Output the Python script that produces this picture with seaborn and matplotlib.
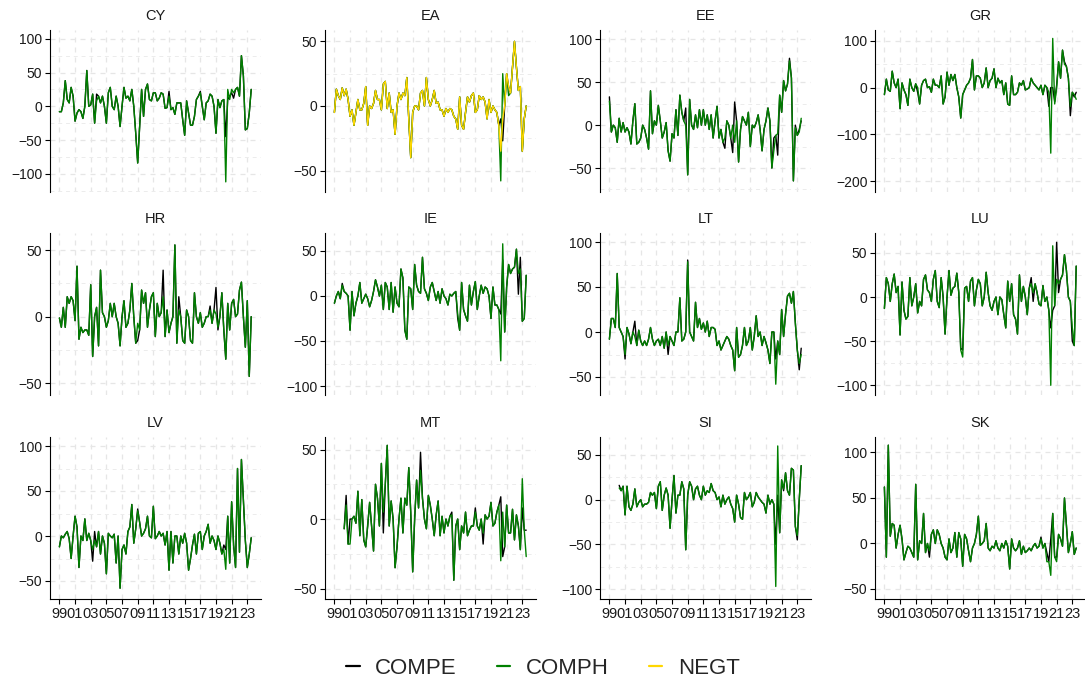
import numpy as np
import pandas as pd
import matplotlib
matplotlib.use("Agg")
import matplotlib.pyplot as plt
import seaborn as sns
from matplotlib.ticker import MultipleLocator, FixedLocator
from matplotlib.lines import Line2D

sns.set_theme(style="white")
plt.rcParams['font.family'] = ['Liberation Sans', 'DejaVu Sans']
plt.rcParams['axes.unicode_minus'] = True

# ---------------- data ----------------
COUNTRIES = ["CY", "EA", "EE", "GR", "HR", "IE", "LT", "LU", "LV", "MT", "SI", "SK"]
SERIES = ["COMPE", "COMPH", "NEGT"]
COLORS = {"COMPE": "#000000", "COMPH": "#008000", "NEGT": "#FFD700"}
FIRST_QUARTER = {"CY": "1999Q1", "EA": "1999Q1", "EE": "1999Q1", "GR": "1999Q1",
                 "HR": "1999Q1", "IE": "1999Q1", "LT": "1999Q1", "LU": "1999Q1",
                 "LV": "1999Q1", "MT": "2000Q2", "SI": "2000Q2", "SK": "1999Q1"}
Y_STEP = {"CY": 50, "EA": 50, "EE": 50, "GR": 100, "HR": 50, "IE": 50,
          "LT": 50, "LU": 50, "LV": 50, "MT": 50, "SI": 50, "SK": 50}
Y_LIMITS = {"CY": (-127, 113), "EA": (-66.6, 58.8), "EE": (-78, 111), "GR": (-223, 123),
            "HR": (-59, 63), "IE": (-110, 70), "LT": (-70, 110), "LU": (-111, 72.5),
            "LV": (-70, 110), "MT": (-57.5, 59), "SI": (-111, 70), "SK": (-61, 117)}
X_TICK_YEARS = [1999, 2001, 2003, 2005, 2007, 2009, 2011, 2013, 2015, 2017, 2019, 2021, 2023]
X_TICK_LABELS = ["99", "01", "03", "05", "07", "09", "11", "13", "15", "17", "19", "21", "23"]

CY_COMPH = [-8, -8, 5, 38, 10, 5, 28, 15, -22, -10,
            -5, -8, -18, 0, 53, 0, 2, 18, -25, 8,
            15, 5, 15, 0, -25, 20, 28, 0, -5, 15,
            0, -30, 0, 28, 12, 15, 8, 25, 0, -40,
            -84, -30, 25, -15, 25, 33, 10, 8, 20, 20,
            8, 12, 20, 18, -3, -2, 15, -5, -2, -12,
            5, 5, 5, -20, -43, 8, -10, -28, -28, -15,
            10, 15, 20, 0, -20, 5, 8, 18, 15, 0,
            -40, 10, -2, 8, 10, -112, 25, 10, 25, 20,
            25, 28, 15, 75, 45, -35, -33, -10, 25]
CY_COMPE = [-8, -8, 5, 38, 10, 5, 28, 15, -22, -10,
            -5, -8, -18, 0, 53, 0, 2, 18, -25, 18,
            15, 5, 15, 0, -25, 20, 28, 0, -5, 15,
            0, -30, 0, 28, 12, 15, 8, 25, 0, -40,
            -84, -30, 25, -15, 25, 33, 10, 8, 20, 20,
            8, 12, 20, 18, -3, -2, 22, -5, -2, -12,
            5, 5, 5, -20, -43, 8, -10, -28, -28, -15,
            10, 15, 22, 0, -20, 5, 8, 18, 15, 0,
            -40, 10, -2, 8, 10, -45, 10, 15, 20, 12,
            25, 28, 15, 75, 45, -35, -33, -10, 25]

EA_NEGT = [-5, 13, 8, 5, 14, 8, 13, 5, -8, -3,
           -15, -5, 5, -3, -3, 2, 15, -15, 0, -2,
           2, 12, 5, 5, -3, 17, 19, -2, 10, -5,
           -3, -22, 0, 10, 5, 10, 8, 22, -10, -40,
           -5, 0, 0, -3, 10, 12, 0, 22, 5, 0,
           5, 12, 2, 3, -3, -3, -8, -2, -5, -2,
           -3, -8, -10, -18, 7, -15, -18, -5, 7, 3,
           8, 10, -5, -3, 8, 5, 7, 3, -10, 5,
           -5, 0, -3, -5, -15, -35, -10, 0, 25, 15,
           10, 30, 50, 30, 12, 15, -35, -10, 0]
EA_COMPH = [-5, 13, 8, 5, 14, 8, 13, 5, -8, -3,
            -15, -5, 5, -3, -3, 2, 15, -15, 0, -2,
            2, 12, 5, 5, -3, 17, 19, -2, 10, -5,
            -3, -22, 0, 10, 5, 10, 8, 22, -10, -40,
            -5, 0, 0, -3, 10, 12, 0, 22, 5, 0,
            5, 12, 2, 3, -3, -3, -8, -2, -5, -2,
            -3, -8, -10, -18, 7, -15, -18, -5, 7, 3,
            8, 10, -5, -3, 8, 5, 7, 3, -10, 5,
            -5, 0, -3, -5, -15, -58, 25, 0, 25, 8,
            10, 30, 50, 30, 12, 15, -35, -10, 0]
EA_COMPE = [-5, 13, 8, 5, 14, 8, 13, 5, -8, -3,
            -15, -5, 5, -3, -3, 2, 15, -15, 0, -2,
            2, 12, 5, 5, -3, 17, 19, -2, 10, -5,
            -3, -22, 0, 10, 5, 10, 8, 22, -10, -40,
            -5, 0, 0, -3, 10, 12, 0, 22, 5, 0,
            5, 12, 2, 3, -3, -3, -8, -2, -5, -2,
            -3, -8, -10, -18, 7, -15, -18, -5, 7, 3,
            8, 10, -5, -3, 8, 5, 7, 3, -10, 5,
            -5, 0, -3, -5, -15, -10, -27, 0, 25, 15,
            10, 30, 50, 30, 12, 15, -35, -10, 0]

EE_COMPH = [28, -8, 0, -3, -20, 8, -8, 3, -8, -3,
            -8, -22, 5, 25, -22, -20, -15, 0, -5, -15,
            -28, 40, -10, 5, 0, 23, 5, -15, -8, 3,
            -30, -42, -10, -15, 18, -12, 35, 15, 5, 0,
            -58, 30, 0, -5, 12, -3, 18, 0, 18, 0,
            12, -5, 12, -15, 5, 22, -15, -5, -20, -15,
            5, 0, -15, 0, -20, 5, -43, -5, 10, 5,
            0, 15, -25, 0, -3, 3, 12, -5, -30, -5,
            5, 20, 5, -50, -30, -12, -10, 35, 15, 52,
            40, 48, 75, 55, -65, -3, -12, -8, 8]
EE_COMPE = [33, -8, 0, -3, -20, 8, -8, 3, -8, -3,
            -8, -22, 5, 25, -22, -20, -15, 0, -5, -15,
            -28, 40, -10, 5, 0, 23, 5, -15, -8, 3,
            -30, -42, -10, -15, 18, -12, 35, 15, 5, 20,
            -58, 30, 0, -5, 12, -3, 18, 0, 18, 0,
            12, -5, 12, -15, 5, 22, -15, -5, -20, -27,
            5, 0, -15, -32, 27, 5, -43, -5, 10, 5,
            0, 15, -25, 0, -3, 3, 12, -5, -30, -5,
            5, 20, 5, -50, -15, -12, -35, 35, 15, 52,
            40, 48, 78, 55, -65, 0, -12, -5, 5]

GR_COMPH = [-15, 18, -5, -8, 35, 10, 0, 18, -45, 10,
            -5, -15, -38, 18, 0, -8, 8, 0, -35, 5,
            15, 18, 0, 2, -10, 18, 5, 5, 0, 25,
            -35, -20, 33, 5, 28, 15, 28, 0, -20, -65,
            -15, -5, 5, 10, 20, 60, -5, 25, 25, 20,
            0, 10, 42, 0, 15, 20, 40, 0, 20, 10,
            15, -15, 10, -35, -38, 25, -15, -15, -10, 10,
            5, 15, -5, -3, 0, 20, 10, 5, 0, -5,
            5, -15, 5, 0, -10, -140, 105, -35, 0, 55,
            20, 80, 50, 45, 20, -40, -10, -15, -25]
GR_COMPE = [-15, 18, -5, -8, 35, 10, 0, 18, -45, 10,
            -5, -15, -38, 18, 0, -8, 8, -10, -35, 5,
            15, 18, 0, 2, -10, 18, 5, 5, 0, 25,
            -35, -20, 33, 5, 28, 15, 28, 0, -20, -65,
            -15, -5, 5, 10, 20, 60, -5, 25, 25, 20,
            0, 10, 42, 0, 15, 20, 40, 0, 20, 10,
            15, -15, 10, -35, -38, 25, -15, -15, -10, 10,
            5, 15, -5, -3, 0, 20, 10, 5, 0, -5,
            5, -15, 5, 0, -40, 0, 0, -30, 5, 55,
            20, 80, 55, 45, 20, -60, -10, -20, -10]

HR_COMPH = [-1, -8, 7, -8, 15, 10, 15, 12, -3, 38,
            -17, -8, -12, -10, -10, -14, 24, -30, 0, 7,
            -22, 35, 3, 0, -8, -3, 10, 0, 10, 0,
            -5, -22, 0, 12, -8, -5, 5, 25, 0, -20,
            -5, -10, 20, 10, 18, -8, 5, 15, 18, -15,
            10, 0, 3, 15, -15, 5, -12, -5, 0, 54,
            -20, 5, 0, -18, -20, 5, 0, -18, -20, 18,
            0, -5, 3, -8, -5, 0, 0, 5, -5, 5,
            2, -8, 0, 18, -10, -32, 10, -10, 10, 13,
            0, 2, 20, 26, 0, -23, 12, -45, 0]
HR_COMPE = [-1, -8, 7, -8, 15, 10, 15, 12, -3, 38,
            -17, -8, -12, -10, -10, -14, 24, -30, 0, 7,
            -22, 35, 3, 0, -8, -3, 10, 0, 10, 0,
            -5, -22, 0, 12, -8, -5, 5, 25, 0, -20,
            -18, -10, 20, 10, 18, -8, 5, 15, 18, -15,
            10, 0, 3, 35, -15, 5, -12, -5, 0, 54,
            -20, 15, 0, -18, -20, 5, 0, -18, -20, 18,
            0, -5, 3, -8, -5, 0, 0, 8, -5, 5,
            22, -10, 0, 18, -10, -32, 10, -10, 10, 13,
            0, 2, 20, 26, 0, -23, 12, -45, 0]

IE_COMPH = [-8, 0, 5, -3, 12, 5, 3, 0, -38, 5,
            -22, -8, 0, 15, -8, -3, 2, -3, -12, -5,
            5, 18, 10, 0, 12, -15, 15, 10, -15, 15,
            -18, 10, -8, -12, 30, 20, -38, -48, 10, 8,
            -15, 35, 12, 5, 3, 43, 8, 3, -5, 10,
            15, 5, -5, 5, -8, 8, 0, -3, -10, 2,
            0, 3, 5, -20, -38, 15, -15, -22, -28, 12,
            -10, 5, 16, -15, 0, 12, 3, 10, 8, 0,
            -25, 10, -10, -10, -15, -72, 58, -40, 10, 35,
            25, 30, 32, 52, 25, 30, -28, -25, 23]
IE_COMPE = [-8, 0, 5, -3, 14, 5, 3, 0, -38, 5,
            -22, -8, 0, 15, -8, -3, 2, -3, -12, -5,
            5, 18, 10, 0, 12, -15, 15, 10, -15, 15,
            -18, 10, -8, -12, 30, 20, -38, -48, 10, 8,
            -15, 35, 12, 5, 3, 43, 8, 3, -5, 10,
            15, 5, -5, 5, -8, 8, 0, -3, -10, 2,
            0, 3, 5, -25, -38, 15, -15, -22, -28, 12,
            -10, 5, 16, -15, 0, 12, 3, 10, 8, 0,
            -25, 10, -10, -10, -15, -20, 40, -40, 10, 35,
            25, 30, 32, 52, 2, 43, -28, -25, 23]

LT_COMPH = [-8, 15, 15, 5, 65, 5, 0, -5, -25, 5,
            -2, -13, 0, -5, -15, 2, -10, -15, -10, -15,
            -8, 5, -8, -15, -10, -8, -15, -5, -18, 0,
            -15, -5, -10, -15, 0, 0, 38, -10, -8, 0,
            78, 0, -5, -10, 33, 5, 15, 3, 10, 0,
            12, -5, 5, 5, 3, -15, -10, -20, -15, -10,
            -5, -8, -15, -20, -43, 5, -28, -25, -15, 5,
            -15, -10, 5, -20, -5, 18, -5, 0, -15, -5,
            -12, -20, -35, 0, 0, -58, -10, -25, 25, -5,
            20, 40, 43, 32, 45, 10, -20, -35, -25]
LT_COMPE = [-8, 15, 15, 5, 65, 5, 0, -5, -30, 5,
            -2, -13, 0, 12, -15, 2, -10, -15, -10, -15,
            -8, 5, -8, -15, -10, -8, -15, -5, -18, 0,
            -25, -5, -10, -15, 0, 0, 38, -10, -8, 0,
            80, 0, -5, -10, 33, 5, 15, 3, 10, 0,
            12, -5, 5, 5, 3, -15, -10, -20, -15, -10,
            -5, -8, -15, -20, -43, 5, -28, -25, -15, 5,
            -15, -10, 5, -20, -5, 18, -5, 0, -15, -5,
            -12, -20, -35, 0, 0, -30, -10, -25, 25, -5,
            20, 40, 43, 32, 45, 10, -20, -42, -18]

LU_COMPH = [-13, 22, 15, -5, 15, 26, 5, 12, -43, 17,
            -15, -25, -22, 22, -10, 0, 15, -18, -5, -10,
            20, 25, 8, 5, -5, 20, 30, -5, -12, 22,
            0, -42, 0, 30, 2, 10, 12, 27, 5, -60,
            -68, 10, 12, -5, 18, 22, -10, 8, 20, 15,
            -10, 0, 28, 5, -10, -15, -5, 0, -20, 0,
            -3, -20, -35, 18, -5, 15, -20, -25, -42, 25,
            -5, 12, 0, -20, 10, 15, 5, 15, 5, -8,
            -10, 13, -5, 0, -15, -100, 58, -10, 20, 15,
            20, 25, 48, 30, 0, -5, -35, -55, 35]
LU_COMPE = [-13, 22, 15, -5, 15, 26, 5, 12, -43, 17,
            -15, -25, -22, 22, -10, 0, 15, -18, -5, -10,
            20, 25, 8, 5, -5, 20, 30, -5, -12, 22,
            0, -42, 0, 30, 2, 10, 12, 27, 5, -58,
            -60, 10, 12, -5, 18, 22, -10, 8, 20, 15,
            -10, 0, 28, 5, -10, -15, -5, 0, -20, 0,
            -3, -20, -35, 18, -5, 15, -20, -25, -42, 25,
            -5, 12, 0, -20, 10, 22, -5, 15, 5, -8,
            -10, 13, -5, 0, -15, -35, -15, -10, 62, 5,
            20, 25, 48, 30, 0, -5, -50, -55, 35]

LV_COMPH = [-12, 0, -2, 2, 5, -3, -25, 0, 22, 10,
            -35, 0, -5, 19, -5, 3, -5, -15, -5, -12,
            5, -20, 0, -8, -42, 3, 0, -2, 2, -30,
            0, -58, -15, -10, -20, 5, 10, 35, -8, 8,
            28, 15, 0, 3, 8, 22, 0, -2, 33, -3,
            0, 5, 0, 3, -10, 5, -38, 5, -30, 0,
            0, -20, 0, -8, 3, -8, -38, -25, -10, 2,
            -20, 3, 5, -15, 0, 5, 13, -8, 0, -5,
            -15, 0, -8, -20, -15, -37, 22, -30, 38, -10,
            -35, 75, -18, 85, 40, -5, -35, -20, -2]
LV_COMPE = [-12, 0, -2, 2, 5, -3, -25, 0, 22, 10,
            -35, 0, -5, 19, -5, 3, -5, -28, 5, -12,
            5, -20, 0, -8, -42, 3, 0, -2, 2, -30,
            0, -58, -15, -10, -20, 5, 10, 35, -8, 8,
            30, 15, 0, 3, 8, 22, 0, -2, 33, -3,
            0, 5, 0, 3, -10, 5, -38, 5, -30, 0,
            0, -20, 0, -8, 3, -8, -38, -25, -10, 2,
            -20, 3, 5, -15, 0, 5, 13, -8, 0, -5,
            -15, 0, -8, -20, -10, -15, 22, -30, 38, -10,
            -35, 75, -18, 85, 40, -5, -35, -20, -2]

MT_COMPH = [-7, 10, -18, -18, 0, 2, -3, 20, -12, 14,
            -15, -20, -5, 12, -5, -23, 25, 15, -5, 40,
            5, 25, 53, -5, 13, 0, -35, -20, 0, 15,
            -10, 15, 10, 37, 5, -38, 0, 28, 8, 35,
            15, 0, -7, 17, 10, 0, -12, 3, 13, -12,
            2, -10, 0, -5, 2, 3, -44, -5, 0, -22,
            -5, -10, 5, -12, -8, -5, -5, 5, -5, -8,
            0, -10, 3, 0, 2, 12, -5, -3, 5, 10,
            -30, 5, -20, 10, -10, -10, 7, -15, 3, -5,
            -22, 29, -8, -27]
MT_COMPE = [-7, 17, -18, 0, 0, 2, -3, 20, -12, 14,
            -15, -20, -5, 12, -5, -23, 25, 15, -5, 40,
            -10, 25, 53, -5, 13, 0, -35, -20, 0, 15,
            -10, 15, 10, 37, 5, -38, 0, 28, 8, 48,
            15, 0, -7, 17, 10, 0, -12, 3, 13, -12,
            2, -10, 0, -5, 2, 5, -44, -5, 0, -22,
            -5, -10, 5, -12, -8, -5, -5, 8, -5, -8,
            0, -18, 3, 0, 2, 12, -5, -3, 5, 10,
            16, -27, -20, 10, -10, -10, 7, -15, 3, -5,
            -22, 8, -8, -8]

SI_COMPH = [13, 10, 15, -17, 15, -8, -12, -5, 12, -8,
            -3, 0, -8, -5, -5, -3, 8, 5, 8, -10,
            15, 20, -12, 5, 13, 5, -32, 0, 27, -15,
            5, 5, 20, 12, -56, 5, 20, 15, 0, 12,
            15, 5, 0, 15, 5, 10, 8, 18, 10, 8,
            0, 3, -8, 5, -5, 0, 3, -5, -10, -25,
            5, -5, -20, -22, 8, 0, 3, 8, -8, -3,
            8, 3, 0, -3, -5, -15, 5, -5, 0, -5,
            -97, 60, -37, 22, 12, 30, 10, 5, 35, 33,
            -30, -40, 0, 38]
SI_COMPE = [16, 10, 15, -17, 15, -8, -12, -5, 12, -8,
            -3, 0, -8, -5, -5, -3, 8, 5, 8, -10,
            15, 20, -12, 5, 13, 5, -32, 0, 27, -15,
            5, 5, 20, 12, -56, 5, 20, 15, 0, 12,
            15, 5, 0, 15, 5, 10, 8, 18, 10, 8,
            0, 3, -8, 5, -5, 0, 3, -5, -10, -25,
            5, -5, -20, -22, 8, 0, 3, 8, -8, -3,
            8, 3, 0, -3, -5, -15, 5, -5, 0, -5,
            -50, 5, -37, 22, 10, 30, 10, 5, 35, 33,
            -30, -45, 0, 38]

SK_COMPH = [62, -15, 108, 8, 22, 20, -5, 10, 20, 5,
            -18, -10, -3, -5, -10, -15, 65, -18, 3, 0,
            33, -10, 0, -8, 10, 15, 0, 15, 10, 0,
            -5, -15, -18, 5, -10, -5, 12, -15, 12, 5,
            -25, 10, 5, -8, -20, -5, 0, 10, 30, -2,
            0, 3, 22, -5, -8, -3, -5, 3, -5, -8,
            0, -5, 3, -3, -28, 5, -5, -8, -5, 3,
            -12, -3, -10, -8, -5, -8, -3, 0, -5, -3,
            5, -5, 0, -20, -20, -35, 33, -15, -20, 10,
            5, -3, 50, 20, -10, 0, 13, -12, -5]
SK_COMPE = [62, -15, 108, 8, 22, 20, -5, 10, 20, 5,
            -18, -10, -3, -5, -10, -15, 65, -18, 3, 0,
            33, -10, 0, -15, 10, 15, 0, 15, 10, 0,
            -5, -15, -18, 5, -10, -5, 12, -15, 12, 5,
            -25, 10, 5, -8, -20, -5, 0, 10, 30, -2,
            0, 3, 22, -5, -8, -3, -5, 3, -5, -8,
            0, -5, 3, -3, -28, 5, -5, -8, -5, 3,
            -12, -3, -10, -8, -5, -8, -3, 0, -5, -3,
            7, -5, 0, -10, -20, 5, 33, -15, -15, 10,
            5, -3, 50, 20, -10, 0, 13, -12, -5]

SERIES_DATA = {
    ("CY", "COMPE"): CY_COMPE, ("CY", "COMPH"): CY_COMPH,
    ("EA", "COMPE"): EA_COMPE, ("EA", "COMPH"): EA_COMPH, ("EA", "NEGT"): EA_NEGT,
    ("EE", "COMPE"): EE_COMPE, ("EE", "COMPH"): EE_COMPH,
    ("GR", "COMPE"): GR_COMPE, ("GR", "COMPH"): GR_COMPH,
    ("HR", "COMPE"): HR_COMPE, ("HR", "COMPH"): HR_COMPH,
    ("IE", "COMPE"): IE_COMPE, ("IE", "COMPH"): IE_COMPH,
    ("LT", "COMPE"): LT_COMPE, ("LT", "COMPH"): LT_COMPH,
    ("LU", "COMPE"): LU_COMPE, ("LU", "COMPH"): LU_COMPH,
    ("LV", "COMPE"): LV_COMPE, ("LV", "COMPH"): LV_COMPH,
    ("MT", "COMPE"): MT_COMPE, ("MT", "COMPH"): MT_COMPH,
    ("SI", "COMPE"): SI_COMPE, ("SI", "COMPH"): SI_COMPH,
    ("SK", "COMPE"): SK_COMPE, ("SK", "COMPH"): SK_COMPH,
}

# ---------------- long table ----------------
rows = []
for (country, series), vals in SERIES_DATA.items():
    per = pd.period_range(FIRST_QUARTER[country], periods=len(vals), freq="Q")
    t = per.year + (per.quarter - 1) / 4.0
    for tt, v in zip(t, vals):
        rows.append((country, series, float(tt), float(v)))
df = pd.DataFrame(rows, columns=["country", "series", "t", "value"])

# ---------------- figure ----------------
W, H = 1085, 683
fig = plt.figure(figsize=(W / 100, H / 100), dpi=100)
fig.patch.set_facecolor("white")

col_left = [50, 325, 600, 875]
row_top = [30, 233, 437]
ax_w, ax_h = 211, 162

grid_kw = dict(color="#e6e6e6", linestyle=(0, (4, 4)), linewidth=0.9)
grid_minor_kw = dict(color="#ececec", linestyle=(0, (4, 4)), linewidth=0.7)

for i, country in enumerate(COUNTRIES):
    r, c = divmod(i, 4)
    ax = fig.add_axes([col_left[c] / W, 1 - (row_top[r] + ax_h) / H, ax_w / W, ax_h / H])
    sub = df[df["country"] == country]
    order = [s for s in SERIES if s in set(sub["series"])]
    sns.lineplot(data=sub, x="t", y="value", hue="series", hue_order=order,
                 palette=COLORS, linewidth=1.0, legend=False, ax=ax,
                 estimator=None, sort=False)
    ax.set_xlim(1997.8, 2024.75)
    ax.set_ylim(*Y_LIMITS[country])
    ax.yaxis.set_major_locator(MultipleLocator(Y_STEP[country]))
    ax.yaxis.set_minor_locator(MultipleLocator(Y_STEP[country] / 2))
    ax.xaxis.set_major_locator(FixedLocator(X_TICK_YEARS))
    ax.set_facecolor("white")
    ax.grid(which="major", **grid_kw)
    ax.grid(which="minor", axis="y", **grid_minor_kw)
    ax.set_axisbelow(True)
    ax.set_xlabel("")
    ax.set_ylabel("")
    ax.set_title(country, fontsize=10.5, pad=7, color="#1a1a1a")
    for s in ["top", "right"]:
        ax.spines[s].set_visible(False)
    ax.spines["left"].set_color("black")
    ax.spines["left"].set_linewidth(0.8)
    ax.tick_params(axis="y", which="major", left=True, length=3.5, width=0.8, color="black",
                   labelsize=10, pad=2, labelcolor="#1a1a1a")
    ax.tick_params(axis="y", which="minor", left=False)
    if r == 2:
        ax.spines["bottom"].set_color("black")
        ax.spines["bottom"].set_linewidth(0.8)
        ax.set_xticks(X_TICK_YEARS)
        ax.set_xticklabels(X_TICK_LABELS)
        ax.tick_params(axis="x", bottom=True, length=3.5, width=0.8, color="black",
                       labelsize=10.5, pad=2, labelcolor="#1a1a1a")
    else:
        ax.spines["bottom"].set_visible(False)
        ax.tick_params(axis="x", bottom=False, labelbottom=False)

handles = [Line2D([], [], color=COLORS[s], linewidth=1.6) for s in SERIES]
fig.legend(handles, SERIES, loc="center", bbox_to_anchor=(543 / W, 1 - 668 / H),
           ncol=3, frameon=False, fontsize=16, handlelength=0.6,
           handletextpad=0.7, columnspacing=1.8)

fig.savefig("out.png", dpi=100)
